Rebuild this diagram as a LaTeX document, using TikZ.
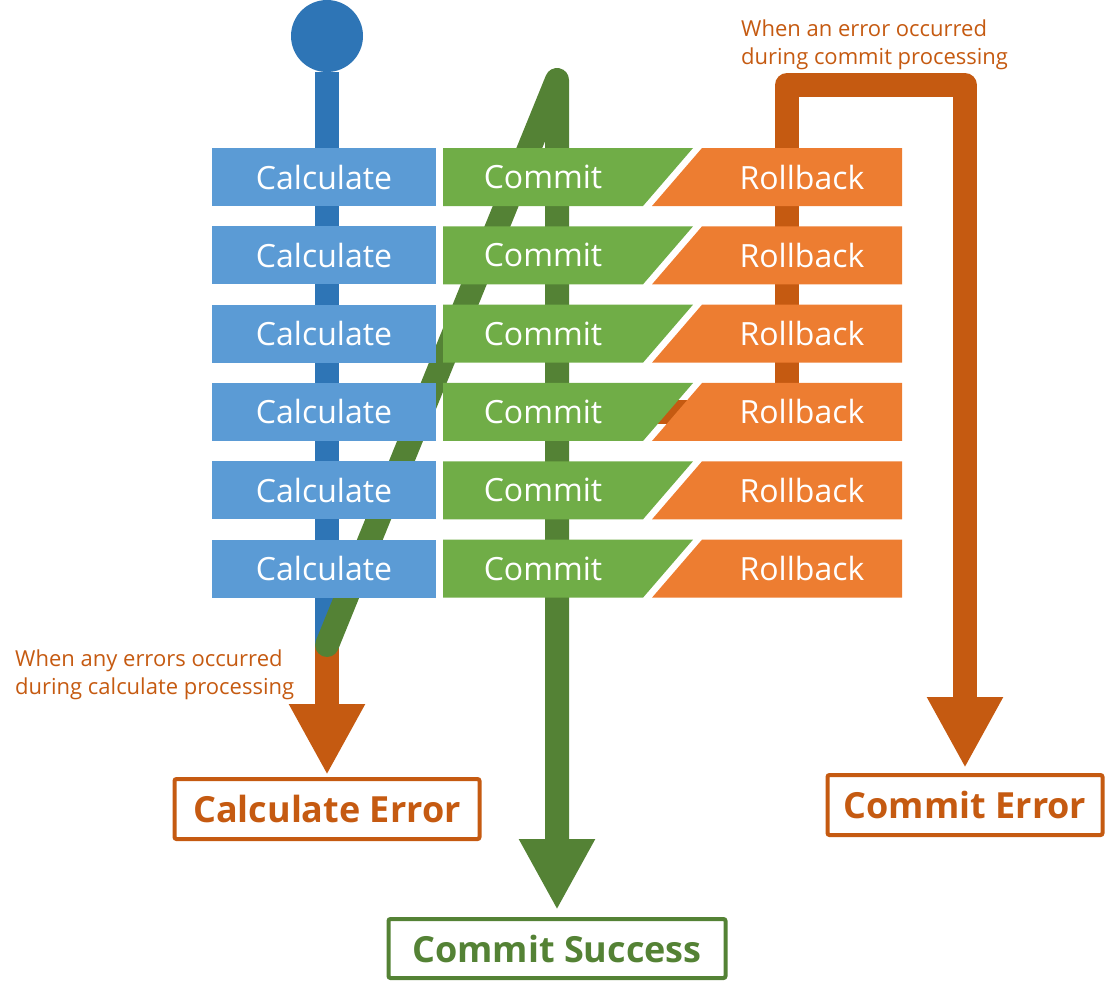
\documentclass[tikz,border=0pt]{standalone}
\usepackage{fontspec}
\setmainfont{Open Sans}
\usetikzlibrary{arrows.meta}
\definecolor{calcblue}{HTML}{5B9BD5}
\definecolor{lineblue}{HTML}{2E75B6}
\definecolor{commitgreen}{HTML}{70AD47}
\definecolor{linegreen}{HTML}{548235}
\definecolor{rollorange}{HTML}{ED7D31}
\definecolor{errorange}{HTML}{C55A11}

\begin{document}
\begin{tikzpicture}[x=1pt,y=-1pt,
  boxtext/.style={text=white, inner sep=0pt, font=\fontsize{32}{38}\selectfont},
  calcbox/.style={boxtext, fill=calcblue, minimum width=224pt, minimum height=58pt},
  flow/.style={line width=24pt},
  bigtip/.style={-{Triangle[width=71pt,length=71pt]}},
  result/.style={draw, line width=4pt, rounded corners=2pt, inner sep=0pt, font=\bfseries\fontsize{36}{43}\selectfont},
  note/.style={text=errorange, align=left, anchor=north west, inner sep=0pt, font=\fontsize{22}{28}\selectfont}]
\useasboundingbox (0,0) rectangle (1108,994);

% Nodes
\node[circle, fill=lineblue, minimum size=72pt, inner sep=0pt] (start) at (327,36) {};
\coordinate (fork) at (327,645);
\coordinate (turn) at (557,80);
\coordinate (undo) at (560,412);
\coordinate (up) at (787,85);
\node[result, errorange, minimum width=305pt, minimum height=60pt] (calcerr) at (327,809) {Calculate Error};
\node[result, errorange, minimum width=275pt, minimum height=60pt] (commiterr) at (965,805) {Commit Error};
\node[result, linegreen, minimum width=337pt, minimum height=59pt] (success) at (557,948.5) {Commit Success};
\node[note] (calcnote) at (15,650) {When any errors occurred\\during calculate processing};
\node[note] (commitnote) at (741,20) {When an error occurred\\during commit processing};

% Arrows
\draw[flow, lineblue] (start) -- (fork);
\draw[flow, bigtip, errorange, shorten >=2pt] (fork) -- (calcerr.north);
\draw[flow, bigtip, errorange, line join=round, shorten >=5pt] (undo) -| (up) -| (commiterr.north);
\draw[flow, bigtip, linegreen, line cap=round, line join=round, shorten >=7pt] (fork) -- (turn) -- (success.north);

% Rows
\foreach \i in {1,...,6}{
  \pgfmathsetmacro{\y}{177+78.33*(\i-1)}
  \node[calcbox] (calc\i) at (324,\y) {Calculate};
  \fill[commitgreen] (443,\y-29) -- (693,\y-29) -- (643,\y+29) -- (443,\y+29) -- cycle;
  \node[boxtext] (commit\i) at (543,\y) {Commit};
  \fill[rollorange] (702,\y-29) -- (902,\y-29) -- (902,\y+29) -- (652,\y+29) -- cycle;
  \node[boxtext] (rollback\i) at (802,\y) {Rollback};
}
\end{tikzpicture}
\end{document}
